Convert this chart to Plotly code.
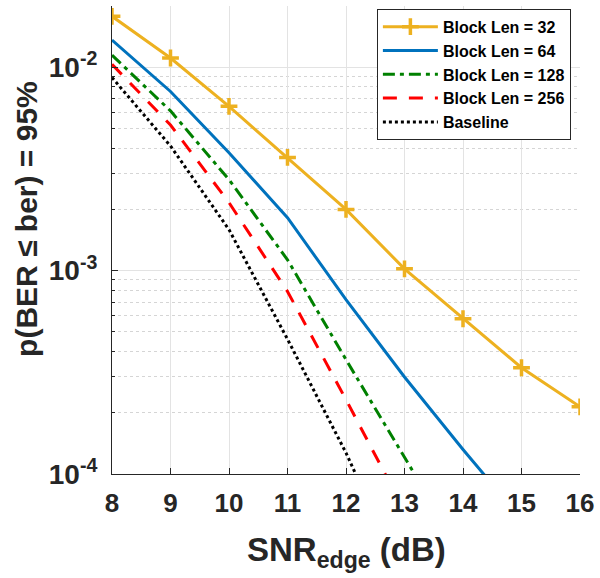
import plotly.graph_objects as go

snr = [8, 9, 10, 11, 12, 13, 14, 15, 16]

ber_32 = [0.0178, 0.0111, 0.00642, 0.0036, 0.0020, 0.00102, 0.00058, 0.000333, 0.000214]
ber_64 = [0.0136, 0.0076, 0.0038, 0.00182, 0.00072, 0.00030, 0.000132, 0.000060]
ber_128 = [0.01146, 0.0061, 0.0028, 0.00113, 0.000365, 0.000121, 0.000040]
ber_256 = [0.01034, 0.0052, 0.00216, 0.00079, 0.000232, 0.000066]
ber_base = [0.0089, 0.0041, 0.00159, 0.00046, 0.000127, 0.000030]

names = ["Block Len = 32", "Block Len = 64", "Block Len = 128", "Block Len = 256", "Baseline"]
colors = ["#EDB120", "#0072BD", "#008000", "#FF0000", "#000000"]
dashes = ["solid", "solid", "12px,5px,4px,5px", "14px,12px", "3px,3px"]
series = [ber_32, ber_64, ber_128, ber_256, ber_base]

y_major = [1e-4, 1e-3, 1e-2]
y_major_text = ["10<sup>-4</sup>", "10<sup>-3</sup>", "10<sup>-2</sup>"]
y_minor = [k * 10.0 ** e for e in (-4, -3) for k in range(2, 10)] + [2e-2]

fig = go.Figure()
for i, (nm, col, dsh, ys) in enumerate(zip(names, colors, dashes, series)):
    xs = snr[:len(ys)]
    if i == 0:
        fig.add_trace(go.Scatter(
            x=xs, y=ys, name=nm, mode="lines+markers",
            line=dict(color=col, width=3, dash=dsh),
            marker=dict(symbol="cross-thin", size=12, color=col,
                        line=dict(color=col, width=3.5)),
        ))
    else:
        fig.add_trace(go.Scatter(
            x=xs, y=ys, name=nm, mode="lines",
            line=dict(color=col, width=3, dash=dsh),
        ))

axis_color = "#262626"
fig.update_layout(
    width=600, height=578,
    margin=dict(l=112, r=20, t=6, b=104),
    plot_bgcolor="white", paper_bgcolor="white",
    font=dict(family="Liberation Sans, Arial, sans-serif", color=axis_color),
    showlegend=True,
    legend=dict(
        x=0.566, y=0.994, xanchor="left", yanchor="top",
        bgcolor="white", bordercolor="#262626", borderwidth=1,
        font=dict(size=16, color="black", family="Liberation Sans, Arial, sans-serif", weight="bold"),
        tracegroupgap=0, itemwidth=55,
    ),
    xaxis=dict(
        range=[8, 16], tickvals=snr, ticktext=[str(v) for v in snr],
        showline=True, linecolor=axis_color, linewidth=1, mirror=False,
        ticks="inside", ticklen=6, tickcolor=axis_color,
        showgrid=True, gridcolor="#e3e3e3", gridwidth=1,
        zeroline=False,
        tickfont=dict(size=26, weight="bold", color=axis_color),
        ticklabelstandoff=6,
    ),
    yaxis=dict(
        type="log", range=[-4, -1.699],
        tickvals=y_major, ticktext=y_major_text,
        showline=True, linecolor=axis_color, linewidth=1, mirror=False,
        ticks="inside", ticklen=6, tickcolor=axis_color,
        showgrid=True, gridcolor="#e3e3e3", gridwidth=1,
        zeroline=False,
        tickfont=dict(size=28, weight="bold", color=axis_color),
        ticklabelstandoff=8,
        minor=dict(tickvals=y_minor, ticks="inside", ticklen=3, tickcolor=axis_color,
                   showgrid=True, gridcolor="#d5d5d5", griddash="dot", gridwidth=1),
    ),
    annotations=[
        dict(text="p(BER ≤ ber) = 95%", xref="paper", yref="paper",
             x=(27 - 112) / 468, y=0.545, xanchor="center", yanchor="middle",
             textangle=-90, showarrow=False,
             font=dict(size=30, weight="bold", color=axis_color)),
        dict(text="SNR<sub>edge</sub> (dB)", xref="paper", yref="paper",
             x=0.5, y=-(529 - 474) / 468, xanchor="center", yanchor="top",
             showarrow=False,
             font=dict(size=33, weight="bold", color=axis_color)),
    ],
)

fig.write_html("out.html")
